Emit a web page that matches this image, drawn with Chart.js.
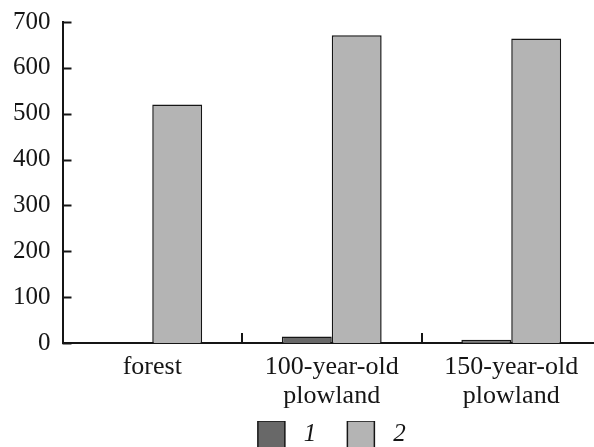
<!DOCTYPE html>
<html>
<head>
<meta charset="utf-8">
<script src="https://cdn.jsdelivr.net/npm/chart.js@4/dist/chart.umd.min.js"></script>
<style>
  html, body { margin: 0; padding: 0; background: #fff; overflow: hidden; }
  #wrap { width: 594px; height: 447px; overflow: hidden; }
</style>
</head>
<body>
<div id="wrap"><canvas id="chart" width="602" height="458"></canvas></div>
<script>
// values
const categories = ['forest', ['100-year-old', 'plowland'], ['150-year-old', 'plowland']]
const series1 = [0, 14, 7]
const series2 = [520, 671, 664]
const seriesNames = ['1', '2']
const yTicks = [0, 100, 200, 300, 400, 500, 600, 700]

const INK = '#151515'
const SERIF = '"Liberation Serif", "Times New Roman", serif'

// short tick marks pointing into the plot, like the original figure
const inwardTicks = {
  id: 'inwardTicks',
  afterDraw(chart) {
    const { ctx, scales: { x, y }, chartArea } = chart
    ctx.save()
    ctx.strokeStyle = INK
    ctx.lineWidth = 2
    yTicks.forEach(v => {
      const py = Math.round(y.getPixelForValue(v)) + 0.5
      ctx.beginPath()
      ctx.moveTo(chartArea.left, py)
      ctx.lineTo(chartArea.left + 9, py)
      ctx.stroke()
    })
    for (let i = 0; i < categories.length - 1; i++) {
      const px = Math.round((x.getPixelForValue(i) + x.getPixelForValue(i + 1)) / 2)
      ctx.beginPath()
      ctx.moveTo(px, chartArea.bottom)
      ctx.lineTo(px, chartArea.bottom - 10)
      ctx.stroke()
    }
    ctx.restore()
  },
}

// legend text gets some spaces so the items sit as wide apart as in the figure
const legendLabels = chart =>
  Chart.defaults.plugins.legend.labels.generateLabels(chart).map((item, i) => ({
    ...item,
    text: ' ' + item.text + (i < seriesNames.length - 1 ? '     ' : ''),
  }))

const chartData = {
  labels: categories,
  datasets: [
    {
      label: seriesNames[0],
      data: series1,
      backgroundColor: '#686868',
      borderColor: INK,
      borderWidth: 1.5,
    },
    {
      label: seriesNames[1],
      data: series2,
      backgroundColor: '#b4b4b4',
      borderColor: INK,
      borderWidth: 1.5,
    },
  ],
}

const chartConfig = {
  type: 'bar',
  data: chartData,
  options: {
    responsive: false,
    animation: false,
    layout: { padding: { left: 1, right: 1, top: 0, bottom: 0 } },
    datasets: {
      bar: { categoryPercentage: 0.556, barPercentage: 1.0 },
    },
    plugins: {
      tooltip: { enabled: false },
      legend: {
        position: 'bottom',
        fullSize: false,
        labels: {
          color: INK,
          boxWidth: 27,
          boxHeight: 27,
          padding: 0,
          font: { family: SERIF, size: 25, style: 'italic' },
          generateLabels: legendLabels,
        },
      },
    },
    scales: {
      x: {
        grid: { display: false, drawTicks: false },
        border: { display: true, color: INK, width: 2 },
        ticks: {
          color: INK,
          padding: 10,
          maxRotation: 0,
          font: { family: SERIF, size: 26, lineHeight: 1.115 },
        },
      },
      y: {
        min: 0,
        max: 700,
        grid: { display: false, drawTicks: false },
        border: { display: true, color: INK, width: 2 },
        afterBuildTicks: scale => {
          scale.ticks = yTicks.map(v => ({ value: v }))
        },
        ticks: {
          color: INK,
          padding: 12,
          font: { family: SERIF, size: 25, lineHeight: 0.8 },
        },
      },
    },
  },
  plugins: [inwardTicks],
}

new Chart(document.querySelector('#chart').getContext('2d'), chartConfig)
</script>
</body>
</html>
